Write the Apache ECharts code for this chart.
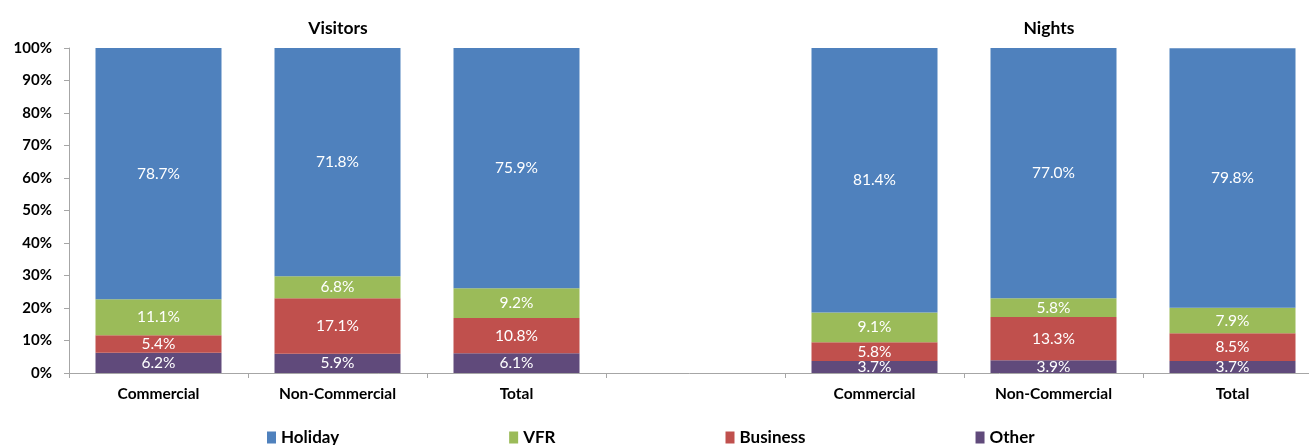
<!DOCTYPE html>
<html>
<head>
<meta charset="utf-8">
<script src="https://cdn.jsdelivr.net/npm/echarts@6/dist/echarts.min.js"></script>
<style>
  html, body { margin: 0; padding: 0; background: #fff; }
  #chart { width: 1309px; height: 445px; }
</style>
</head>
<body>
<div id="chart"></div>
<script>
// Purpose-of-visit shares, visitors vs nights, by accommodation type
const categories = ['Commercial', 'Non-Commercial', 'Total', '', 'Commercial', 'Non-Commercial', 'Total'];
const groupTitles = ['Visitors', 'Nights'];
const holiday  = [78.7, 71.8, 75.9, null, 81.4, 77.0, 79.8];
const vfr      = [11.1, 6.8, 9.2, null, 9.1, 5.8, 7.9];
const business = [5.4, 17.1, 10.8, null, 5.8, 13.3, 8.5];
const other    = [6.2, 5.9, 6.1, null, 3.7, 3.9, 3.7];
const yTicks = [0, 10, 20, 30, 40, 50, 60, 70, 80, 90, 100];

const FONT = 'Lato, "Open Sans", sans-serif';
const chart = echarts.init(document.getElementById('chart'), null, { renderer: 'canvas' });

function stackSeries(name, data, color) {
  return {
    name: name,
    type: 'bar',
    stack: 'share',
    data: data,
    barWidth: 126,
    itemStyle: { color: color },
    label: {
      show: true,
      position: 'inside',
      color: '#fff',
      fontFamily: FONT,
      fontSize: 15.5,
      formatter: p => p.value == null ? '' : p.value.toFixed(1) + '%'
    }
  };
}

const titleStyle = { fontFamily: FONT, fontSize: 17.5, fontWeight: 'bold', color: '#000' };

chart.setOption({
  animation: false,
  title: [
    { text: groupTitles[0], left: 333, top: 14, textAlign: 'center', textStyle: titleStyle },
    { text: groupTitles[1], left: 1044, top: 14, textAlign: 'center', textStyle: titleStyle }
  ],
  legend: {
    top: 424,
    left: 262,
    itemGap: 170,
    itemWidth: 9,
    itemHeight: 12,
    icon: 'rect',
    textStyle: { fontFamily: FONT, fontSize: 17, fontWeight: 'bold', color: '#000' },
    data: ['Holiday', 'VFR', 'Business', 'Other']
  },
  // plot area runs slightly past the right edge of the canvas
  grid: { left: 69, top: 48, height: 325, width: 1253, containLabel: false, outerBoundsMode: 'none' },
  xAxis: {
    type: 'category',
    data: categories,
    axisLine: { lineStyle: { color: '#a6a6a6' } },
    axisTick: { show: true, length: 5, lineStyle: { color: '#a6a6a6' } },
    axisLabel: { fontFamily: FONT, fontSize: 15.5, fontWeight: 'bold', color: '#000', margin: 13, interval: 0 }
  },
  yAxis: {
    type: 'value',
    min: yTicks[0],
    max: yTicks[yTicks.length - 1],
    interval: 10,
    splitLine: { show: false },
    axisLine: { show: true, lineStyle: { color: '#a6a6a6' } },
    axisTick: { show: true, length: 5, lineStyle: { color: '#a6a6a6' } },
    axisLabel: { fontFamily: FONT, fontSize: 15, fontWeight: 'bold', color: '#000', margin: 17,
      formatter: v => v + '%' }
  },
  series: [
    stackSeries('Other', other, '#604A7B'),
    stackSeries('Business', business, '#C0504D'),
    stackSeries('VFR', vfr, '#9BBB59'),
    stackSeries('Holiday', holiday, '#4F81BD')
  ]
});
</script>
</body>
</html>
